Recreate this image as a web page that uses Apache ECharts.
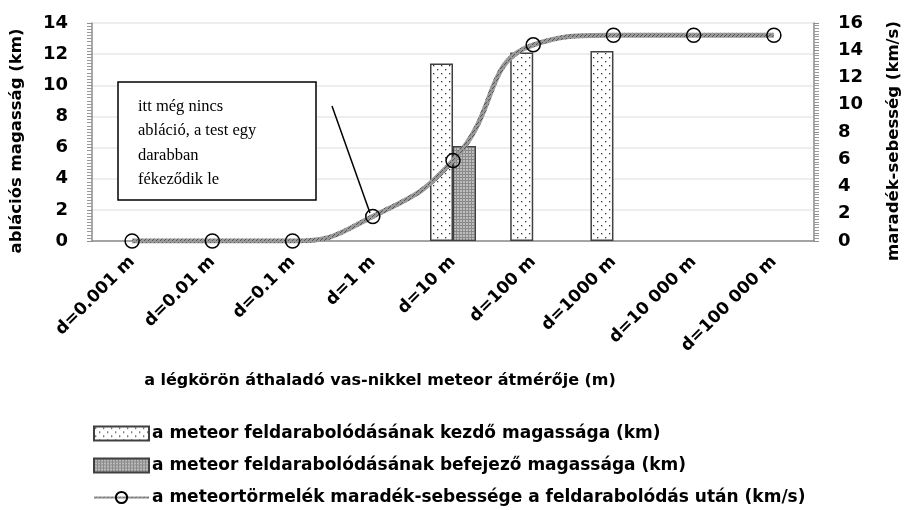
<!DOCTYPE html>
<html><head><meta charset="utf-8">
<script src="https://cdn.jsdelivr.net/npm/echarts@6/dist/echarts.min.js"></script>
<style>html,body{margin:0;padding:0;background:#fff}#c{width:904px;height:510px}</style>
</head><body><div id="c"></div>
<script>
const categories = ['d=0.001 m','d=0.01 m','d=0.1 m','d=1 m','d=10 m','d=100 m','d=1000 m','d=10 000 m','d=100 000 m'];
const startHeight = [null,null,null,null,11.4,12.1,12.2,null,null];
const endHeight = [null,null,null,null,6.1,null,null,null,null];
const residualSpeed = [0,0,0,1.8,5.9,14.4,15.1,15.1,15.1];
const seriesNames = ['a meteor feldarabolódásának kezdő magassága (km)','a meteor feldarabolódásának befejező magassága (km)','a meteortörmelék maradék-sebessége a feldarabolódás után (km/s)'];
const leftTicks = [0,14,2];
const rightTicks = [0,16,2];

function dotPattern(){
  const c=document.createElement('canvas');c.width=8;c.height=8;const g=c.getContext('2d');
  g.fillStyle='#fff';g.fillRect(0,0,8,8);g.fillStyle='#333';
  g.fillRect(1,1,1.3,1.3);g.fillRect(5,5,1.3,1.3);return c;
}
function hatchPattern(){
  const c=document.createElement('canvas');c.width=3;c.height=3;const g=c.getContext('2d');
  g.fillStyle='#bdbdbd';g.fillRect(0,0,3,3);g.fillStyle='#8a8a8a';
  g.fillRect(0,0,3,1);g.fillRect(0,0,1,3);return c;
}
function linePattern(){
  const c=document.createElement('canvas');c.width=4;c.height=4;const g=c.getContext('2d');
  g.fillStyle='#999';g.fillRect(0,0,4,4);g.fillStyle='#555';
  g.fillRect(0,0,1,1);g.fillRect(2,2,1,1);g.fillRect(1,3,1,1);return c;
}
const F='"DejaVu Sans", sans-serif';
const legendText={fontFamily:F,fontSize:17,fontWeight:'bold',color:'#000',padding:[0,0,0,-2]};
function mkLegend(i,top,icon){
  const d={name:seriesNames[i]};if(icon)d.icon=icon;
  return {orient:'vertical',left:93,top:top,padding:0,itemWidth:55,itemHeight:14,textStyle:legendText,data:[d]};
}
const chart=echarts.init(document.getElementById('c'),null,{renderer:'canvas'});
chart.setOption({
  animation:false,
  textStyle:{fontFamily:F},
  grid:{left:92,right:90,top:23,bottom:269,containLabel:false,outerBoundsMode:'none'},
  legend:[mkLegend(0,425,'rect'),mkLegend(1,457,'rect'),mkLegend(2,489,null)],
  xAxis:{type:'category',data:categories,
    axisLine:{lineStyle:{color:'#8c8c8c',width:1.5}},
    axisTick:{length:6,lineStyle:{color:'#8c8c8c',width:1.5}},
    axisLabel:{rotate:45,fontSize:17,fontWeight:'bold',color:'#000',fontFamily:F,margin:18},
    name:'a légkörön áthaladó vas-nikkel meteor átmérője (m)',nameLocation:'middle',nameGap:132,
    nameTextStyle:{fontSize:16,fontWeight:'bold',color:'#000',fontFamily:F,padding:[0,146,0,0]}},
  yAxis:[
    {type:'value',min:leftTicks[0],max:leftTicks[1],interval:leftTicks[2],
     name:'ablációs magasság (km)',nameLocation:'middle',nameGap:67,nameRotate:90,
     nameTextStyle:{fontSize:16.5,fontWeight:'bold',color:'#000',fontFamily:F,padding:[0,18,0,0]},
     axisLine:{show:true,lineStyle:{color:'#8c8c8c',width:1.5}},
     axisTick:{show:true,length:5,lineStyle:{color:'#8c8c8c'}},
     minorTick:{show:true,splitNumber:10,length:5,lineStyle:{color:'#9a9a9a'}},
     axisLabel:{fontSize:18,fontWeight:'bold',color:'#000',fontFamily:F,margin:24},
     splitLine:{lineStyle:{color:'#e8e8e8',width:1.5}}},
    {type:'value',min:rightTicks[0],max:rightTicks[1],interval:rightTicks[2],position:'right',
     name:'maradék-sebesség (km/s)',nameLocation:'middle',nameGap:71,nameRotate:90,
     nameTextStyle:{fontSize:16.5,fontWeight:'bold',color:'#000',fontFamily:F,padding:[0,18,0,0]},
     axisLine:{show:true,lineStyle:{color:'#8c8c8c',width:1.5}},
     axisTick:{show:true,length:5,lineStyle:{color:'#8c8c8c'}},
     minorTick:{show:true,splitNumber:10,length:5,lineStyle:{color:'#9a9a9a'}},
     axisLabel:{fontSize:18,fontWeight:'bold',color:'#000',fontFamily:F,margin:24},
     splitLine:{show:false}}
  ],
  series:[
    {name:seriesNames[0],type:'bar',data:startHeight,barWidth:23,barGap:'0%',
     itemStyle:{color:{image:dotPattern(),repeat:'repeat'},borderColor:'#404040',borderWidth:1.5}},
    {name:seriesNames[1],type:'bar',data:endHeight,barWidth:23,barGap:'0%',
     itemStyle:{color:{image:hatchPattern(),repeat:'repeat'},borderColor:'#404040',borderWidth:1.2}},
    {name:seriesNames[2],type:'line',yAxisIndex:1,data:residualSpeed,smooth:0.5,
     symbol:'circle',symbolSize:14,
     lineStyle:{color:{image:linePattern(),repeat:'repeat'},width:5},
     itemStyle:{color:'rgba(255,255,255,0)',borderColor:'#000',borderWidth:1.5},z:5}
  ],
  graphic:[
    {type:'line',shape:{x1:332,y1:106,x2:370,y2:213},style:{stroke:'#000',lineWidth:1.5},z:10},
    {type:'rect',shape:{x:118,y:82,width:198,height:118},style:{fill:'#fff',stroke:'#000',lineWidth:1.5},z:10},
    {type:'text',left:138,top:94,z:11,style:{text:'itt még nincs\nabláció, a test egy\ndarabban\nfékeződik le',
      font:'16.5px "Liberation Serif", serif',fill:'#000',lineHeight:24.5}}
  ]
});
</script></body></html>
